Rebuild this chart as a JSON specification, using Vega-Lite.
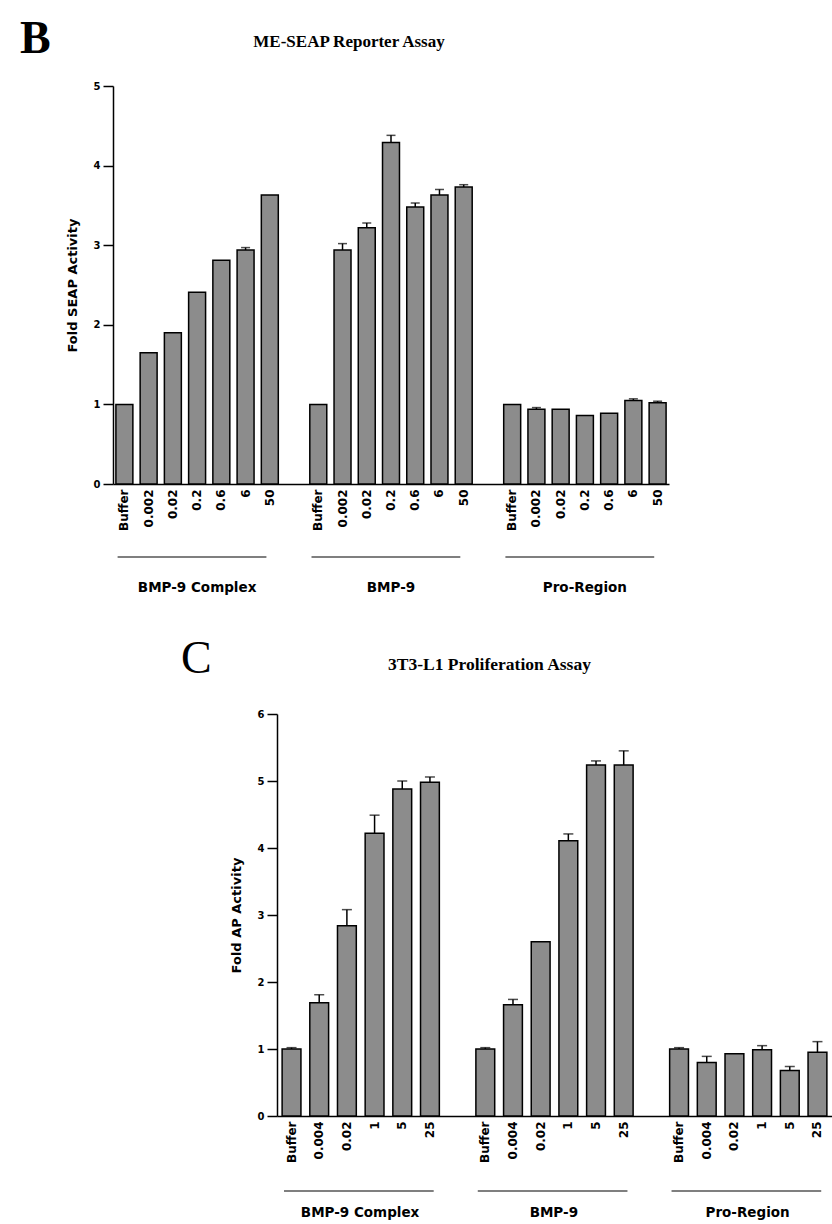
{
  "$schema": "https://vega.github.io/schema/vega-lite/v6.json",
  "background": "white",
  "padding": {"left": 20, "top": 16, "right": 0, "bottom": 0},
  "spacing": 40,
  "datasets": {
    "seapBars": [
      {"group": "BMP-9 Complex", "dose": "Buffer", "key": "Complex:Buffer", "value": 1.0},
      {"group": "BMP-9 Complex", "dose": "0.002", "key": "Complex:0.002", "value": 1.65},
      {"group": "BMP-9 Complex", "dose": "0.02", "key": "Complex:0.02", "value": 1.90},
      {"group": "BMP-9 Complex", "dose": "0.2", "key": "Complex:0.2", "value": 2.41},
      {"group": "BMP-9 Complex", "dose": "0.6", "key": "Complex:0.6", "value": 2.81},
      {"group": "BMP-9 Complex", "dose": "6", "key": "Complex:6", "value": 2.94, "hi": 2.97},
      {"group": "BMP-9 Complex", "dose": "50", "key": "Complex:50", "value": 3.63},
      {"group": "BMP-9", "dose": "Buffer", "key": "BMP9:Buffer", "value": 1.0},
      {"group": "BMP-9", "dose": "0.002", "key": "BMP9:0.002", "value": 2.94, "hi": 3.02},
      {"group": "BMP-9", "dose": "0.02", "key": "BMP9:0.02", "value": 3.22, "hi": 3.28},
      {"group": "BMP-9", "dose": "0.2", "key": "BMP9:0.2", "value": 4.29, "hi": 4.38},
      {"group": "BMP-9", "dose": "0.6", "key": "BMP9:0.6", "value": 3.48, "hi": 3.53},
      {"group": "BMP-9", "dose": "6", "key": "BMP9:6", "value": 3.63, "hi": 3.70},
      {"group": "BMP-9", "dose": "50", "key": "BMP9:50", "value": 3.73, "hi": 3.76},
      {"group": "Pro-Region", "dose": "Buffer", "key": "Pro:Buffer", "value": 1.0},
      {"group": "Pro-Region", "dose": "0.002", "key": "Pro:0.002", "value": 0.94, "hi": 0.96},
      {"group": "Pro-Region", "dose": "0.02", "key": "Pro:0.02", "value": 0.94},
      {"group": "Pro-Region", "dose": "0.2", "key": "Pro:0.2", "value": 0.86},
      {"group": "Pro-Region", "dose": "0.6", "key": "Pro:0.6", "value": 0.89},
      {"group": "Pro-Region", "dose": "6", "key": "Pro:6", "value": 1.05, "hi": 1.07},
      {"group": "Pro-Region", "dose": "50", "key": "Pro:50", "value": 1.02, "hi": 1.04}
    ],
    "seapGroups": [
      {"label": "BMP-9 Complex", "first": "Complex:Buffer", "last": "Complex:50", "mid": "Complex:0.2"},
      {"label": "BMP-9", "first": "BMP9:Buffer", "last": "BMP9:50", "mid": "BMP9:0.2"},
      {"label": "Pro-Region", "first": "Pro:Buffer", "last": "Pro:50", "mid": "Pro:0.2"}
    ],
    "profBars": [
      {"group": "BMP-9 Complex", "dose": "Buffer", "key": "Complex:Buffer", "value": 1.0, "hi": 1.02},
      {"group": "BMP-9 Complex", "dose": "0.004", "key": "Complex:0.004", "value": 1.69, "hi": 1.81},
      {"group": "BMP-9 Complex", "dose": "0.02", "key": "Complex:0.02", "value": 2.84, "hi": 3.08},
      {"group": "BMP-9 Complex", "dose": "1", "key": "Complex:1", "value": 4.22, "hi": 4.49},
      {"group": "BMP-9 Complex", "dose": "5", "key": "Complex:5", "value": 4.88, "hi": 5.0},
      {"group": "BMP-9 Complex", "dose": "25", "key": "Complex:25", "value": 4.98, "hi": 5.06},
      {"group": "BMP-9", "dose": "Buffer", "key": "BMP9:Buffer", "value": 1.0, "hi": 1.02},
      {"group": "BMP-9", "dose": "0.004", "key": "BMP9:0.004", "value": 1.66, "hi": 1.74},
      {"group": "BMP-9", "dose": "0.02", "key": "BMP9:0.02", "value": 2.60},
      {"group": "BMP-9", "dose": "1", "key": "BMP9:1", "value": 4.11, "hi": 4.21},
      {"group": "BMP-9", "dose": "5", "key": "BMP9:5", "value": 5.24, "hi": 5.30},
      {"group": "BMP-9", "dose": "25", "key": "BMP9:25", "value": 5.24, "hi": 5.45},
      {"group": "Pro-Region", "dose": "Buffer", "key": "Pro:Buffer", "value": 1.0, "hi": 1.02},
      {"group": "Pro-Region", "dose": "0.004", "key": "Pro:0.004", "value": 0.80, "hi": 0.89},
      {"group": "Pro-Region", "dose": "0.02", "key": "Pro:0.02", "value": 0.93},
      {"group": "Pro-Region", "dose": "1", "key": "Pro:1", "value": 0.99, "hi": 1.05},
      {"group": "Pro-Region", "dose": "5", "key": "Pro:5", "value": 0.68, "hi": 0.74},
      {"group": "Pro-Region", "dose": "25", "key": "Pro:25", "value": 0.95, "hi": 1.11}
    ],
    "profGroups": [
      {"label": "BMP-9 Complex", "first": "Complex:Buffer", "last": "Complex:25", "mid": "Complex:0.02"},
      {"label": "BMP-9", "first": "BMP9:Buffer", "last": "BMP9:25", "mid": "BMP9:0.02"},
      {"label": "Pro-Region", "first": "Pro:Buffer", "last": "Pro:25", "mid": "Pro:0.02"}
    ]
  },
  "vconcat": [
    {
      "title": {"text": "B", "anchor": "start", "font": "Liberation Serif", "fontSize": 46, "fontWeight": "bold", "color": "black", "offset": -30, "dx": -46},
      "hconcat": [
        {
          "width": 556,
          "height": 398,
          "title": {"text": "ME-SEAP Reporter Assay", "font": "Liberation Serif", "fontSize": 17, "fontWeight": "bold", "color": "black", "anchor": "middle", "dx": -42, "offset": 30},
          "layer": [
            {
              "data": {"name": "seapBars"},
              "mark": {"type": "bar", "fill": "#8c8c8c", "stroke": "black", "strokeWidth": 1.5},
              "encoding": {
                "x": {"field": "key", "type": "nominal", "sort": null,
                  "scale": {"domain": ["Complex:Buffer","Complex:0.002","Complex:0.02","Complex:0.2","Complex:0.6","Complex:6","Complex:50","gap1","BMP9:Buffer","BMP9:0.002","BMP9:0.02","BMP9:0.2","BMP9:0.6","BMP9:6","BMP9:50","gap2","Pro:Buffer","Pro:0.002","Pro:0.02","Pro:0.2","Pro:0.6","Pro:6","Pro:50"], "paddingInner": 0.3, "paddingOuter": 0.12},
                  "axis": {"title": null, "ticks": false, "labelAngle": -90, "labelFontSize": 12, "labelPadding": 5, "labelOverlap": false, "labelExpr": "split(datum.value, ':')[1] || ''"}},
                "y": {"field": "value", "type": "quantitative", "scale": {"domain": [0, 5], "nice": false},
                  "axis": {"values": [0,1,2,3,4,5], "format": "d", "tickSize": 10, "labelPadding": 3, "labelFontSize": 10, "title": "Fold SEAP Activity", "titleFontSize": 13, "titlePadding": 14}}
              }
            },
            {
              "data": {"name": "seapBars"},
              "transform": [{"filter": {"field": "hi", "valid": true}}],
              "mark": {"type": "rule", "stroke": "black", "strokeWidth": 1.5},
              "encoding": {"x": {"field": "key", "type": "nominal"}, "y": {"field": "value", "type": "quantitative"}, "y2": {"field": "hi"}}
            },
            {
              "data": {"name": "seapBars"},
              "transform": [{"filter": {"field": "hi", "valid": true}}],
              "mark": {"type": "tick", "color": "black", "size": 9, "thickness": 1.5},
              "encoding": {"x": {"field": "key", "type": "nominal"}, "y": {"field": "hi", "type": "quantitative"}}
            },
            {
              "data": {"name": "seapGroups"},
              "mark": {"type": "rule", "stroke": "black", "strokeWidth": 1.2, "yOffset": 73},
              "encoding": {"x": {"field": "first", "type": "nominal", "bandPosition": 0.1}, "x2": {"field": "last", "bandPosition": 0.3}, "y": {"datum": 0, "type": "quantitative"}}
            },
            {
              "data": {"name": "seapGroups"},
              "mark": {"type": "text", "font": "DejaVu Sans", "fontWeight": "bold", "fontSize": 13.5, "color": "black", "baseline": "middle", "align": "center", "yOffset": 104},
              "encoding": {"x": {"field": "mid", "type": "nominal", "bandPosition": 0.5}, "y": {"datum": 0, "type": "quantitative"}, "text": {"field": "label"}}
            }
          ]
        }
      ]
    },
    {
      "title": {"text": "C", "anchor": "start", "font": "Liberation Serif", "fontSize": 46, "fontWeight": "normal", "color": "black", "offset": -27, "dx": 68},
      "spacing": 0,
      "hconcat": [
        {"width": 117, "height": 10, "data": {"values": []}, "mark": {"type": "text", "text": ""}, "encoding": {}},
        {
          "width": 555,
          "height": 402,
          "title": {"text": "3T3-L1 Proliferation Assay", "font": "Liberation Serif", "fontSize": 17.5, "fontWeight": "bold", "color": "black", "anchor": "middle", "dx": -65, "offset": 36},
          "layer": [
            {
              "data": {"name": "profBars"},
              "mark": {"type": "bar", "fill": "#8c8c8c", "stroke": "black", "strokeWidth": 1.5},
              "encoding": {
                "x": {"field": "key", "type": "nominal", "sort": null,
                  "scale": {"domain": ["Complex:Buffer","Complex:0.004","Complex:0.02","Complex:1","Complex:5","Complex:25","gap1","BMP9:Buffer","BMP9:0.004","BMP9:0.02","BMP9:1","BMP9:5","BMP9:25","gap2","Pro:Buffer","Pro:0.004","Pro:0.02","Pro:1","Pro:5","Pro:25"], "paddingInner": 0.32, "paddingOuter": 0.185},
                  "axis": {"title": null, "ticks": false, "labelAngle": -90, "labelFontSize": 12, "labelPadding": 5, "labelOverlap": false, "labelExpr": "split(datum.value, ':')[1] || ''"}},
                "y": {"field": "value", "type": "quantitative", "scale": {"domain": [0, 6], "nice": false},
                  "axis": {"values": [0,0.5,1,1.5,2,2.5,3,3.5,4,4.5,5,5.5,6], "labelExpr": "datum.value % 1 == 0 ? format(datum.value, 'd') : ''", "tickSize": 10, "labelPadding": 3, "labelFontSize": 10, "title": "Fold AP Activity", "titleFontSize": 13, "titlePadding": 14}}
              }
            },
            {
              "data": {"name": "profBars"},
              "transform": [{"filter": {"field": "hi", "valid": true}}],
              "mark": {"type": "rule", "stroke": "black", "strokeWidth": 1.5},
              "encoding": {"x": {"field": "key", "type": "nominal"}, "y": {"field": "value", "type": "quantitative"}, "y2": {"field": "hi"}}
            },
            {
              "data": {"name": "profBars"},
              "transform": [{"filter": {"field": "hi", "valid": true}}],
              "mark": {"type": "tick", "color": "black", "size": 10, "thickness": 1.5},
              "encoding": {"x": {"field": "key", "type": "nominal"}, "y": {"field": "hi", "type": "quantitative"}}
            },
            {
              "data": {"name": "profGroups"},
              "mark": {"type": "rule", "stroke": "black", "strokeWidth": 1.2, "yOffset": 75},
              "encoding": {"x": {"field": "first", "type": "nominal", "bandPosition": 0.1}, "x2": {"field": "last", "bandPosition": 0.7}, "y": {"datum": 0, "type": "quantitative"}}
            },
            {
              "data": {"name": "profGroups"},
              "mark": {"type": "text", "font": "DejaVu Sans", "fontWeight": "bold", "fontSize": 13.5, "color": "black", "baseline": "middle", "align": "center", "yOffset": 97},
              "encoding": {"x": {"field": "mid", "type": "nominal", "bandPosition": 1.2}, "y": {"datum": 0, "type": "quantitative"}, "text": {"field": "label"}}
            }
          ]
        }
      ]
    }
  ],
  "config": {
    "view": {"stroke": null},
    "axis": {"domainColor": "black", "tickColor": "black", "labelColor": "black", "titleColor": "black", "labelFont": "DejaVu Sans", "labelFontWeight": "bold", "titleFont": "DejaVu Sans", "titleFontWeight": "bold", "grid": false, "domainWidth": 1.5, "tickWidth": 1.5}
  }
}
